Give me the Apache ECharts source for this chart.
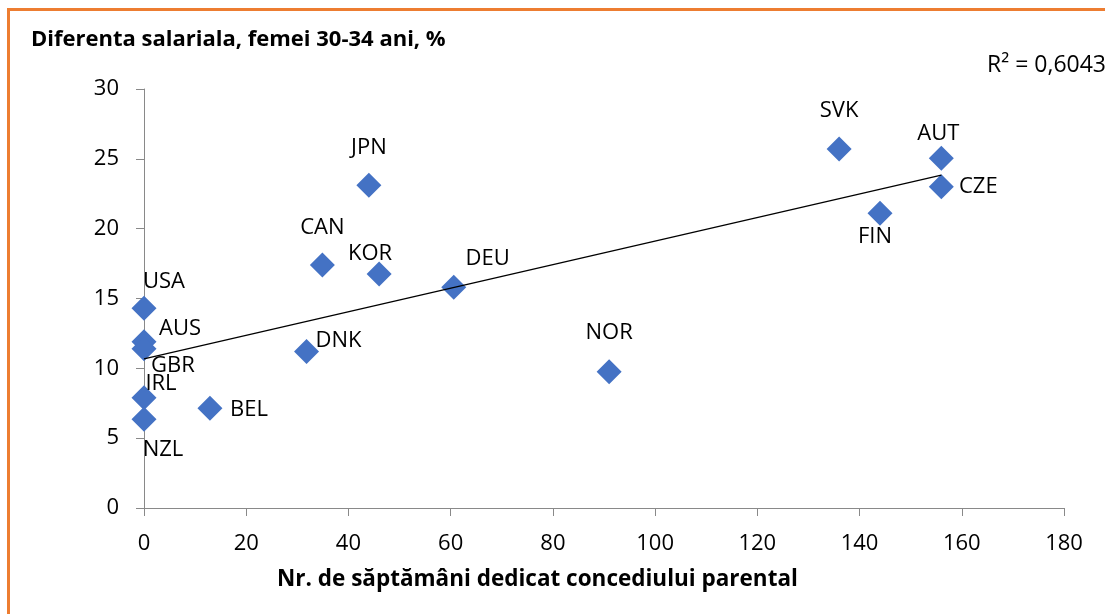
<!DOCTYPE html>
<html>
<head>
<meta charset="utf-8">
<title>Diferenta salariala</title>
<script src="https://cdn.jsdelivr.net/npm/echarts@6/dist/echarts.min.js"></script>
<style>
    html, body { margin: 0; padding: 0; background: #fff; overflow: hidden; }
    .frame {
        position: absolute; left: 7px; top: 8px;
        width: 1300px; height: 800px;
        border: 3px solid #ED7D31;
    }
    #main { position: absolute; left: 0; top: 0; width: 1105px; height: 614px; }
</style>
</head>
<body>
<div class="frame"></div>
<div id="main"></div>
<script type="text/javascript">
    // tari si valori
    var countries = ['USA', 'AUS', 'GBR', 'IRL', 'NZL', 'BEL', 'DNK', 'CAN', 'JPN', 'KOR', 'DEU', 'NOR', 'SVK', 'AUT', 'CZE', 'FIN'];
    var weeks     = [0, 0, 0, 0, 0, 12.9, 31.8, 34.9, 44, 46, 60.6, 91, 136, 156, 156, 144];
    var wageGap   = [14.3, 11.9, 11.4, 7.9, 6.35, 7.15, 11.2, 17.4, 23.1, 16.75, 15.8, 9.75, 25.7, 25.05, 23.0, 21.1];
    var xTicks = [0, 20, 40, 60, 80, 100, 120, 140, 160, 180];
    var yTicks = [0, 5, 10, 15, 20, 25, 30];
    var r2Text = 'R² = 0,6043';

    // pozitia etichetelor fata de punct (px)
    var labelOffsets = [
        [20, -27], [36, -13], [29, 17], [17, -14], [19, 30], [39, 2], [32, -11], [0, -37],
        [0, -38], [-9, -20], [34, -29], [0, -39], [0, -38], [-3, -24], [37, 0], [-5, 23]
    ];

    var font = "'Open Sans', 'Noto Sans', sans-serif";

    var points = [];
    for (var i = 0; i < countries.length; i++) {
        points.push({
            name: countries[i],
            value: [weeks[i], wageGap[i]],
            label: { offset: labelOffsets[i] }
        });
    }

    // linie de tendinta (regresie liniara)
    var n = weeks.length, sx = 0, sy = 0, sxx = 0, sxy = 0, maxX = 0;
    for (var j = 0; j < n; j++) {
        sx += weeks[j]; sy += wageGap[j];
        sxx += weeks[j] * weeks[j]; sxy += weeks[j] * wageGap[j];
        if (weeks[j] > maxX) maxX = weeks[j];
    }
    var slope = (n * sxy - sx * sy) / (n * sxx - sx * sx);
    var icept = (sy - slope * sx) / n;
    var trend = [[0, icept], [maxX, icept + slope * maxX]];

    var myChart = echarts.init(document.getElementById('main'));
    var axisGrey = '#898989';
    var option = {
        animation: false,
        textStyle: { fontFamily: font },
        title: {
            text: 'Diferenta salariala, femei 30-34 ani, %',
            left: 31,
            top: 29,
            padding: 0,
            textStyle: { fontFamily: font, fontSize: 22, fontWeight: 'bold', color: '#000' }
        },
        grid: { left: 144, right: 41, top: 89, bottom: 106 },
        xAxis: {
            type: 'value',
            min: xTicks[0],
            max: xTicks[xTicks.length - 1],
            interval: xTicks[1] - xTicks[0],
            splitLine: { show: false },
            axisLine: { show: true, lineStyle: { color: axisGrey, width: 1 } },
            axisTick: { show: true, length: 8, lineStyle: { color: axisGrey } },
            axisLabel: { margin: 25, fontSize: 22, color: '#000', fontFamily: font }
        },
        yAxis: {
            type: 'value',
            min: yTicks[0],
            max: yTicks[yTicks.length - 1],
            interval: yTicks[1] - yTicks[0],
            splitLine: { show: false },
            axisLine: { show: true, lineStyle: { color: axisGrey, width: 1 } },
            axisTick: { show: true, length: 8, lineStyle: { color: axisGrey } },
            axisLabel: { margin: 25, fontSize: 22, color: '#000', fontFamily: font }
        },
        graphic: [
            {
                type: 'text',
                left: 277,
                top: 568,
                style: {
                    text: 'Nr. de săptămâni dedicat concediului parental',
                    font: 'bold 22.5px ' + font,
                    fill: '#000'
                }
            },
            {
                type: 'text',
                left: 987,
                top: 54,
                style: { text: r2Text, font: '23px ' + font, fill: '#000' }
            }
        ],
        series: [
            {
                type: 'scatter',
                symbol: 'diamond',
                symbolSize: 25,
                itemStyle: { color: '#4472C4', opacity: 1 },
                label: {
                    show: true,
                    position: 'inside',
                    formatter: '{b}',
                    fontSize: 22,
                    color: '#000',
                    fontFamily: font
                },
                data: points,
                z: 2
            },
            {
                type: 'line',
                symbol: 'none',
                silent: true,
                lineStyle: { color: '#000', width: 1.3 },
                data: trend,
                z: 3
            }
        ]
    };
    myChart.setOption(option);
</script>
</body>
</html>
